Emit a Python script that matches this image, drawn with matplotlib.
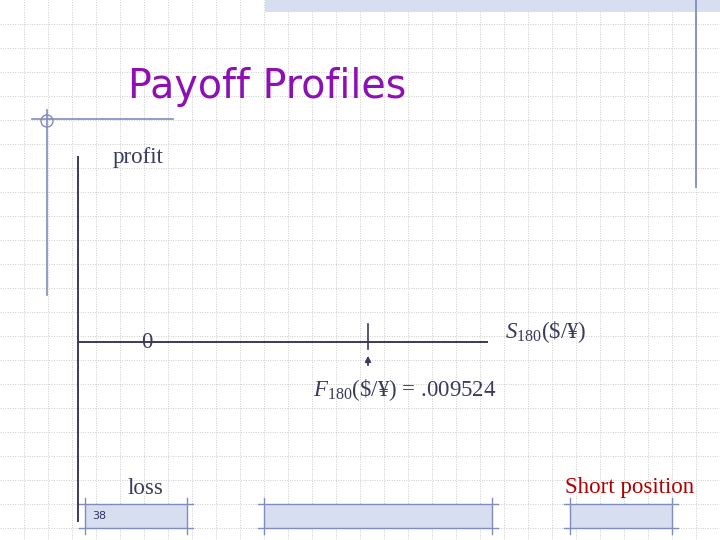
import matplotlib
import matplotlib.pyplot as plt
from matplotlib.patches import Rectangle, Circle

plt.switch_backend('Agg')
matplotlib.rcParams['mathtext.fontset'] = 'custom'
matplotlib.rcParams['mathtext.rm'] = 'Liberation Serif'
matplotlib.rcParams['mathtext.it'] = 'Liberation Serif:italic'
matplotlib.rcParams['mathtext.bf'] = 'Liberation Serif:bold'

title = "Payoff Profiles"
y_top_label = "profit"
y_bottom_label = "loss"
zero_label = "0"
x_label = r"$S_{180}$(\$/¥)"
forward_rate = ".009524"
forward_label = r"$F_{180}$(\$/¥) = " + forward_rate
position = "Short position"
page_no = "38"

navy = '#3a3a5c'
deco = '#7f8cbc'
band = '#d6def0'

fig = plt.figure(figsize=(7.2, 5.4), dpi=100)
ax = fig.add_axes([0, 0, 1, 1])
ax.set_xlim(0, 720)
ax.set_ylim(540, 0)
ax.axis('off')

# dotted background grid
for g in range(24, 720, 24):
    ax.axvline(g, color='#cccccc', lw=0.7, ls=(0, (1, 1.5)), zorder=0)
for g in range(24, 540, 24):
    ax.axhline(g, color='#cccccc', lw=0.7, ls=(0, (1, 1.5)), zorder=0)

# slide decorations
ax.add_patch(Rectangle((265, 0), 455, 12, facecolor=band, edgecolor='none', zorder=1))
ax.plot([696, 696], [0, 187], color=deco, lw=1.3)
ax.plot([32, 173], [119, 119], color=deco, lw=1.2)
ax.plot([47, 47], [110, 295], color=deco, lw=1.2)
ax.add_patch(Circle((47, 121), 6, fill=False, edgecolor=deco, lw=1.0))

# footer boxes
for x0, x1 in [(85, 187), (264, 492), (570, 672)]:
    ax.add_patch(Rectangle((x0, 504), x1 - x0, 24, facecolor=band, edgecolor='none', zorder=1))
    ax.plot([x0 - 6, x1 + 6], [504, 504], color=deco, lw=1.0)
    ax.plot([x0 - 6, x1 + 6], [528, 528], color=deco, lw=1.0)
    ax.plot([x0, x0], [498, 534], color=deco, lw=1.0)
    ax.plot([x1, x1], [498, 534], color=deco, lw=1.0)

ax.text(128, 87, title, color='#8e10b4', fontsize=28.5, family='DejaVu Sans',
        va='center', ha='left')

# payoff diagram axes
ax.plot([78, 78], [157, 521], color=navy, lw=1.4)
ax.plot([78, 487], [342, 342], color=navy, lw=1.4)
ax.plot([368, 368], [324, 349], color=navy, lw=1.2)
ax.annotate('', xy=(368, 353), xytext=(368, 368),
            arrowprops=dict(arrowstyle='-|>', color=navy, lw=1.3, mutation_scale=8))

serif = 'Liberation Serif'
fs = 16.5
ax.text(113, 157, y_top_label, fontsize=fs, family=serif, color=navy, va='center')
ax.text(147, 343, zero_label, fontsize=fs, family=serif, color=navy, va='center', ha='center')
ax.text(505, 332, x_label, fontsize=fs, family=serif, color=navy, va='center')
ax.text(313, 390, forward_label, fontsize=fs, family=serif, color=navy, va='center')
ax.text(128, 489, y_bottom_label, fontsize=fs, family=serif, color=navy, va='center')
ax.text(565, 488, position, fontsize=fs, family=serif, color='#b00000', va='center')
ax.text(92, 516, page_no, fontsize=8, family='DejaVu Sans', color='#333366', va='center')

fig.savefig('out.png', dpi=100)
